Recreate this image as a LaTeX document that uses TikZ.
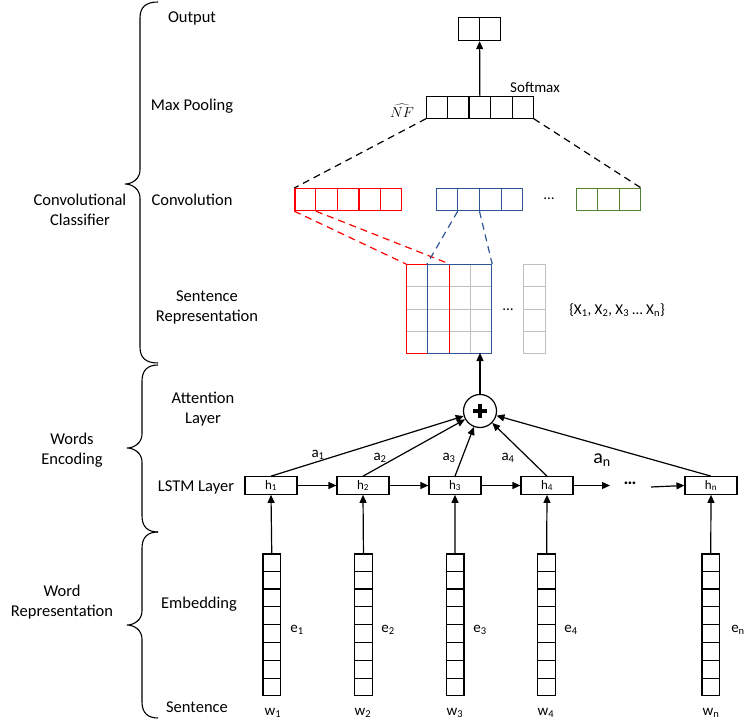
\documentclass[tikz,border=0pt]{standalone}
\usepackage{fontspec}
\setmainfont{Carlito}
\usetikzlibrary{calc,arrows.meta}
\definecolor{cred}{RGB}{255,0,0}
\definecolor{cblue}{RGB}{47,85,151}
\definecolor{cgreen}{RGB}{84,130,53}
\definecolor{cgray}{RGB}{191,191,191}
\newcommand\hdiv[3]{\pgfmathtruncatemacro\nm{#2-1}\foreach \i in {1,...,\nm}{\draw[cellline,#3] ($(#1.north west)!{\i/#2}!(#1.north east)$) -- ($(#1.south west)!{\i/#2}!(#1.south east)$);}}
\newcommand\vdiv[3]{\pgfmathtruncatemacro\nm{#2-1}\foreach \i in {1,...,\nm}{\draw[cellline,#3] ($(#1.north west)!{\i/#2}!(#1.south west)$) -- ($(#1.north east)!{\i/#2}!(#1.south east)$);}}
\newcommand\mybrace[5]{% xend, xbar, ytop, ymid, ybot
  \draw[bracel] (#1,#3) .. controls (#2+6,#3) and (#2,#3+5) .. (#2,#3+16) -- (#2,#4-14) .. controls (#2,#4-5) and (#2-8,#4) .. (#2-15,#4) .. controls (#2-8,#4) and (#2,#4+5) .. (#2,#4+14) -- (#2,#5-16) .. controls (#2,#5-5) and (#2+6,#5) .. (#1,#5);}
\begin{document}
\begin{tikzpicture}[x=1pt,y=-1pt,
  lbl/.style={font=\fontsize{16.5}{20}\selectfont, align=center, inner sep=0pt},
  sml/.style={font=\fontsize{15}{18}\selectfont, inner sep=0pt},
  ln/.style={line width=1.2pt},
  cellline/.style={line width=1.2pt},
  bracel/.style={line width=1.1pt},
  arr/.style={line width=1.2pt, -{Triangle[length=8pt,width=7pt]}},
  dsh/.style={line width=1.2pt, dash pattern=on 7pt off 5pt},
  box/.style={draw, line width=1.2pt, inner sep=0pt, anchor=north west},
  hbox/.style={draw, line width=1.2pt, inner sep=0pt, minimum width=52pt, minimum height=17.5pt, font=\fontsize{13}{15}\selectfont},
  ecol/.style={box, minimum width=17.7pt, minimum height=141.7pt}
]
\useasboundingbox (0,0) rectangle (755,725);

% braces
\mybrace{158}{140}{2}{184}{363}
\mybrace{158}{142}{365}{448}{532}
\mybrace{158}{142}{532}{625}{718}

% left labels
\node[lbl] (lc1) at (80,209.5) {Convolutional\\Classifier};
\node[lbl] (lc2) at (72,450) {Words\\Encoding};
\node[lbl] (lc3) at (62,602.5) {Word\\Representation};

% layer labels
\node[lbl] (lOut) at (192,18) {Output};
\node[lbl] (lMP) at (192,106) {Max Pooling};
\node[lbl] (lConv) at (192,200) {Convolution};
\node[lbl] (lSR) at (207,307.5) {Sentence\\Representation};
\node[lbl] (lAtt) at (203,409.5) {Attention\\Layer};
\node[lbl] (lLSTM) at (196,487) {LSTM Layer};
\node[lbl] (lEmb) at (199,604) {Embedding};
\node[lbl] (lSent) at (197,707) {Sentence};

% output
\node[box, minimum width=42pt, minimum height=23pt] (out) at (458,17) {};
\hdiv{out}{2}{black}
% max pooling
\node[box, minimum width=106.5pt, minimum height=21.5pt] (mp) at (426,96) {};
\hdiv{mp}{5}{black}
\node[sml] (soft) at (535,87) {Softmax};
\node[inner sep=0pt, font=\fontsize{15}{18}\selectfont] (nf) at (402,111) {$\widehat{NF}$};
\draw[arr] (mp.north) -- (out.south);

% convolution
\node[box, draw=cred, minimum width=106.7pt, minimum height=22pt] (cr) at (294.3,188) {};
\hdiv{cr}{5}{cred}
\node[box, draw=cblue, minimum width=85.7pt, minimum height=22pt] (cb) at (436,188) {};
\hdiv{cb}{4}{cblue}
\node[box, draw=cgreen, minimum width=64.3pt, minimum height=22pt] (cg) at (575.7,188) {};
\hdiv{cg}{3}{cgreen}
\node[sml] (cdots) at (549,199) {…};

% sentence representation
\node[box, draw=cgray, minimum width=85pt, minimum height=89pt] (grid) at (406,264) {};
\hdiv{grid}{4}{cgray}
\vdiv{grid}{4}{cgray}
\node[box, draw=cgray, minimum width=21.5pt, minimum height=89pt] (gcol) at (523,264) {};
\vdiv{gcol}{4}{cgray}
\node[box, draw=cred, minimum width=42.5pt, minimum height=89pt] (rrect) at (406,264) {};
\node[box, draw=cblue, minimum width=64pt, minimum height=89pt] (brect) at (427,264) {};
\node[sml] (mdots) at (508,310) {…};
\node[sml] (xset) at (617,310) {\{X\textsubscript{1}, X\textsubscript{2}, X\textsubscript{3} … X\textsubscript{n}\}};

% dashed connections
\draw[dsh] (mp.south west) -- (cr.north west);
\draw[dsh] (mp.south east) -- (cg.north east);
\draw[dsh, cred] (cr.south west) -- (rrect.north west);
\draw[dsh, cred] ($(cr.south west)!0.2!(cr.south east)$) -- (rrect.north east);
\draw[dsh, cblue] ($(cb.south west)!0.25!(cb.south east)$) -- (brect.north west);
\draw[dsh, cblue] ($(cb.south west)!0.5!(cb.south east)$) -- (brect.north east);

% attention
\node[draw, circle, line width=1.2pt, minimum size=33pt, inner sep=0pt] (plus) at (480,411) {};
\draw[line width=3.5pt] ($(plus.center)+(-7,0)$) -- ($(plus.center)+(7,0)$);
\draw[line width=3.5pt] ($(plus.center)+(0,-7)$) -- ($(plus.center)+(0,7)$);
\coordinate (mb) at (480,353);
\draw[arr] (plus.north) -- (mb);

% LSTM
\node[hbox] (h1) at (271,485.5) {h\textsubscript{1}};
\node[hbox] (h2) at (363,485.5) {h\textsubscript{2}};
\node[hbox] (h3) at (455,485.5) {h\textsubscript{3}};
\node[hbox] (h4) at (547,485.5) {h\textsubscript{4}};
\node[hbox] (hn) at (711,485.5) {h\textsubscript{n}};
\draw[arr] (h1.east) -- (h2.west);
\draw[arr] (h2.east) -- (h3.west);
\draw[arr] (h3.east) -- (h4.west);
\coordinate (ca) at (610,485.5);
\draw[arr] (h4.east) -- (ca);
\node[inner sep=0pt, font=\fontsize{18}{20}\selectfont\bfseries] (ldots) at (630,483) {…};
\coordinate (cbb) at (651,487);
\draw[arr] (cbb) -- (hn.west);

\foreach \h in {h1,h2,h3,h4,hn} {\draw[arr] (\h.north) -- (plus);}
\node[sml] (a1) at (318,455) {a\textsubscript{1}};
\node[sml] (a2) at (380,458) {a\textsubscript{2}};
\node[sml] (a3) at (449,458) {a\textsubscript{3}};
\node[sml] (a4) at (508,458) {a\textsubscript{4}};
\node[inner sep=0pt, font=\fontsize{20}{22}\selectfont] (an) at (602,460) {a\textsubscript{n}};

% embeddings
\foreach \n/\x in {e1/262.3, e2/354, e3/445.6, e4/537.2, en/701.3} {
  \node[ecol] (\n) at (\x,553.3) {};
  \vdiv{\n}{8}{black}
}
\foreach \n/\h in {e1/h1,e2/h2,e3/h3,e4/h4,en/hn} {\draw[arr] (\n.north) -- (\h.south);}
\node[sml] (le1) at (297,630) {e\textsubscript{1}};
\node[sml] (le2) at (388,630) {e\textsubscript{2}};
\node[sml] (le3) at (480,630) {e\textsubscript{3}};
\node[sml] (le4) at (571,630) {e\textsubscript{4}};
\node[sml] (len) at (738,630) {e\textsubscript{n}};
\node[sml] (w1) at (273,713) {w\textsubscript{1}};
\node[sml] (w2) at (363,713) {w\textsubscript{2}};
\node[sml] (w3) at (455,713) {w\textsubscript{3}};
\node[sml] (w4) at (546,713) {w\textsubscript{4}};
\node[sml] (wn) at (711,713) {w\textsubscript{n}};
\end{tikzpicture}
\end{document}
